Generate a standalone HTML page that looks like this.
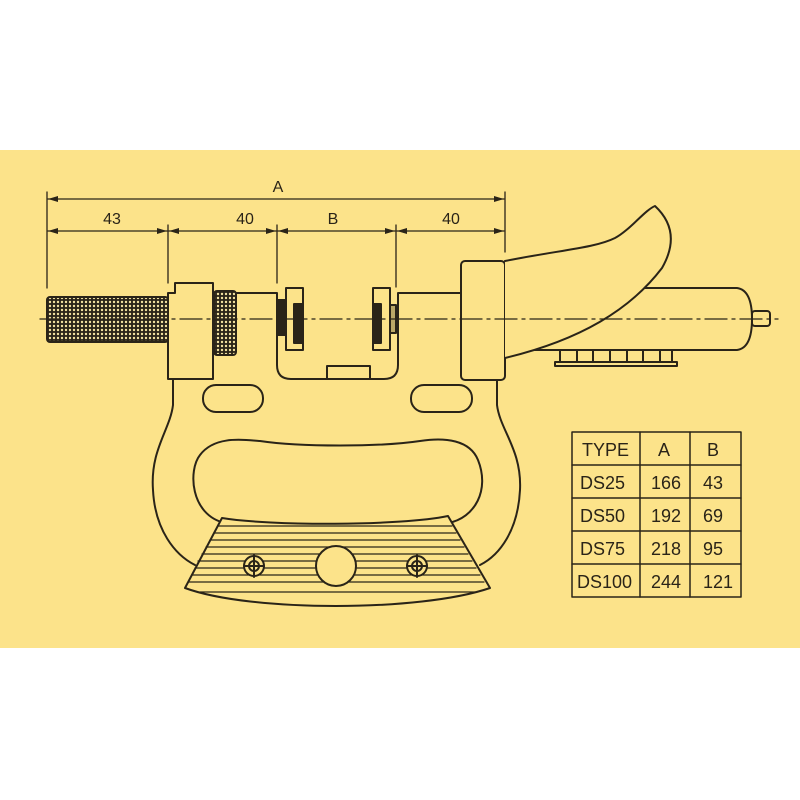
<!DOCTYPE html>
<html><head><meta charset="utf-8"><style>
html,body{margin:0;padding:0;background:#fff;width:800px;height:800px;overflow:hidden}
svg{display:block}
text{font-family:"Liberation Sans",sans-serif;fill:#2a2418}
</style></head><body>
<svg width="800" height="800" viewBox="0 0 800 800" xmlns="http://www.w3.org/2000/svg">
<defs>
<pattern id="knurl" width="4" height="4" patternUnits="userSpaceOnUse">
<rect width="4" height="4" fill="#2a2418"/><circle cx="2" cy="2" r="1.2" fill="#f3e2a0"/>
</pattern>
<marker id="ar" markerWidth="10" markerHeight="6" refX="10" refY="3" orient="auto-start-reverse" markerUnits="userSpaceOnUse">
<path d="M0,0 L10,3 L0,6 z" fill="#2a2418"/></marker>
</defs>
<rect x="0" y="150" width="800" height="498" fill="#fce38a"/>
<g stroke="#2a2418" stroke-width="2" fill="none" stroke-linecap="round" stroke-linejoin="round">
<!-- extension lines -->
<line x1="47" y1="192" x2="47" y2="288" stroke-width="1.3"/>
<line x1="168" y1="225" x2="168" y2="283" stroke-width="1.3"/>
<line x1="277" y1="225" x2="277" y2="283" stroke-width="1.3"/>
<line x1="396" y1="225" x2="396" y2="287" stroke-width="1.3"/>
<line x1="505" y1="192" x2="505" y2="252" stroke-width="1.3"/>
<!-- dimension lines -->
<line x1="48" y1="199" x2="504" y2="199" stroke-width="1.3" marker-start="url(#ar)" marker-end="url(#ar)"/>
<line x1="48" y1="231" x2="167" y2="231" stroke-width="1.3" marker-start="url(#ar)" marker-end="url(#ar)"/>
<line x1="169" y1="231" x2="276" y2="231" stroke-width="1.3" marker-start="url(#ar)" marker-end="url(#ar)"/>
<line x1="278" y1="231" x2="395" y2="231" stroke-width="1.3" marker-start="url(#ar)" marker-end="url(#ar)"/>
<line x1="397" y1="231" x2="504" y2="231" stroke-width="1.3" marker-start="url(#ar)" marker-end="url(#ar)"/>

<!-- frame outer -->
<path d="M173,380 L173,405 C170,430 150,450 153,490 C155,530 175,555 195,565"/>
<path d="M497,380 L497,405 C500,430 522,450 520,490 C518,530 500,555 480,565"/>
<!-- inner opening -->
<path d="M225,523 C190,515 188,470 200,455 C215,435 245,440 260,441 C300,447 380,447 420,441 C445,437 470,440 478,460 C490,490 475,518 448,523"/>
<!-- slots -->
<rect x="203" y="385" width="60" height="27" rx="13"/>
<rect x="411" y="385" width="61" height="27" rx="13"/>
<!-- foot -->
<path d="M222,518 C270,526 400,526 448,516 L490,588 C420,612 250,612 185,588 Z" fill="#fce38a"/>
<g stroke-width="1.2">
<line x1="218" y1="526" x2="452" y2="526"/><line x1="214" y1="533" x2="456" y2="533"/>
<line x1="210" y1="540" x2="460" y2="540"/><line x1="206" y1="547" x2="464" y2="547"/>
<line x1="202" y1="554" x2="468" y2="554"/><line x1="198" y1="561" x2="472" y2="561"/>
<line x1="195" y1="568" x2="476" y2="568"/><line x1="192" y1="575" x2="480" y2="575"/>
<line x1="189" y1="582" x2="484" y2="582"/><line x1="200" y1="592" x2="475" y2="592"/>
</g>
<circle cx="336" cy="566" r="20" fill="#fce38a"/>
<circle cx="254" cy="566" r="10" fill="#fce38a"/><circle cx="254" cy="566" r="5"/><line x1="244" y1="566" x2="264" y2="566"/><line x1="254" y1="555" x2="254" y2="577"/>
<circle cx="417" cy="566" r="10" fill="#fce38a"/><circle cx="417" cy="566" r="5"/><line x1="407" y1="566" x2="427" y2="566"/><line x1="417" y1="555" x2="417" y2="577"/>

<!-- thimble -->
<rect x="47" y="297" width="121" height="45" rx="3" fill="url(#knurl)"/>
<!-- left block -->
<path d="M175,283 L213,283 L213,379 L168,379 L168,293 L175,293 Z" fill="#fce38a"/>
<rect x="214" y="291" width="22" height="64" rx="3" fill="url(#knurl)"/>
<!-- spindle / frame top -->
<path d="M236,293 L277,293 L277,365 Q277,379 291,379 L384,379 Q398,379 398,365 L398,293 L461,293"/>
<rect x="327" y="366" width="43" height="13"/>
<!-- anvils -->
<rect x="277" y="300" width="8" height="35" fill="#2a2418"/>
<rect x="286" y="288" width="17" height="62" fill="#fce38a"/>
<rect x="294" y="304" width="8" height="39" fill="#2a2418"/>
<rect x="373" y="288" width="17" height="62" fill="#fce38a"/>
<rect x="373" y="304" width="8" height="39" fill="#2a2418"/>
<rect x="390" y="305" width="6" height="28" fill="#bba868"/>
<!-- right block -->
<rect x="461" y="261" width="44" height="119" rx="4" fill="#fce38a"/>
<!-- barrel -->
<path d="M630,288 L737,288 Q752,290 752,319 Q752,348 737,350 L535,350"/>
<rect x="752" y="311" width="18" height="15" rx="3"/>
<!-- ratchet -->
<rect x="555" y="362" width="122" height="4"/>
<path d="M560,350 L560,362 M577,350 L577,362 M593,350 L593,362 M610,350 L610,362 M627,350 L627,362 M643,350 L643,362 M660,350 L660,362 M672,350 L672,362"/>
<!-- pistol handle -->
<path d="M505,261 C560,250 595,248 615,238 C630,230 645,210 655,206 C670,220 678,240 662,268 C630,310 580,340 505,358" fill="#fce38a"/>
<!-- centerline -->
<line x1="40" y1="319" x2="778" y2="319" stroke-width="1.3" stroke-dasharray="22,5,3,5"/>
<!-- table -->
<g stroke-width="1.5">
<rect x="572" y="432" width="169" height="165"/>
<line x1="640" y1="432" x2="640" y2="597"/><line x1="690" y1="432" x2="690" y2="597"/>
<line x1="572" y1="465" x2="741" y2="465"/><line x1="572" y1="498" x2="741" y2="498"/>
<line x1="572" y1="531" x2="741" y2="531"/><line x1="572" y1="564" x2="741" y2="564"/>
</g>
</g>
<g font-size="18">
<text x="278" y="192" text-anchor="middle" font-size="16">A</text>
<text x="112" y="224" text-anchor="middle" font-size="16">43</text>
<text x="245" y="224" text-anchor="middle" font-size="16">40</text>
<text x="333" y="224" text-anchor="middle" font-size="16">B</text>
<text x="451" y="224" text-anchor="middle" font-size="16">40</text>
<text x="582" y="456">TYPE</text><text x="658" y="456">A</text><text x="707" y="456">B</text>
<text x="580" y="489">DS25</text><text x="651" y="489">166</text><text x="703" y="489">43</text>
<text x="580" y="522">DS50</text><text x="651" y="522">192</text><text x="703" y="522">69</text>
<text x="580" y="555">DS75</text><text x="651" y="555">218</text><text x="703" y="555">95</text>
<text x="577" y="588">DS100</text><text x="651" y="588">244</text><text x="703" y="588">121</text>
</g>
</svg>
</body></html>
